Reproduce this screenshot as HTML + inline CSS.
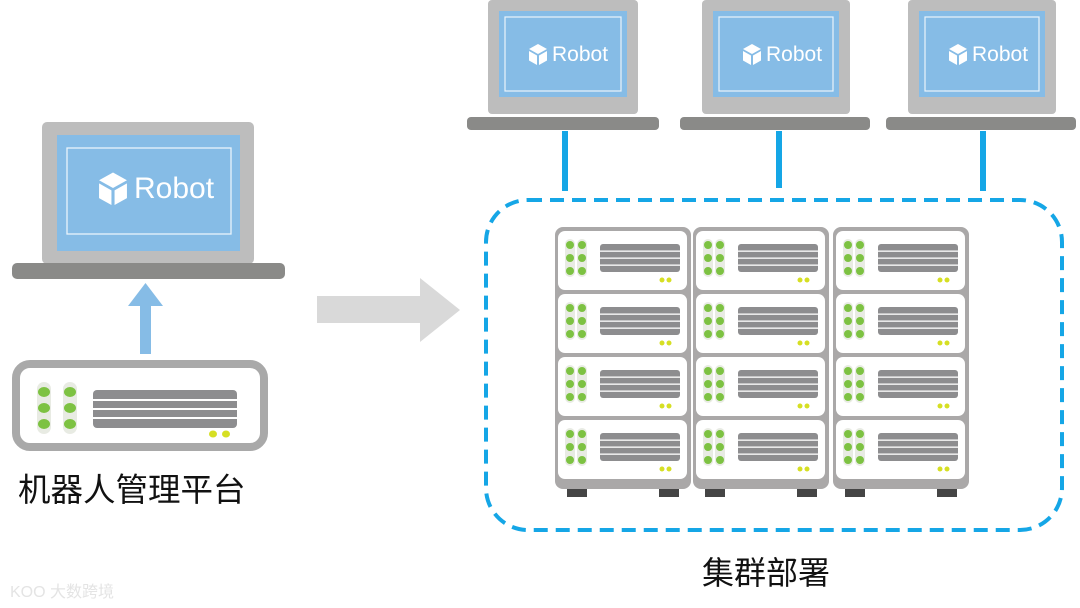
<!DOCTYPE html>
<html><head><meta charset="utf-8"><style>
html,body{margin:0;padding:0;background:#fff;width:1080px;height:608px;overflow:hidden}
svg text{font-family:"Liberation Sans","Noto Sans CJK SC",sans-serif}
</style></head><body>
<svg width="1080" height="608" viewBox="0 0 1080 608" xmlns="http://www.w3.org/2000/svg">
<defs>
<g id="unit">
<rect x="0" y="0" width="129" height="59" rx="7" fill="#fff"/>
<rect x="7" y="8" width="10" height="38" rx="5" fill="#e8ebe3"/>
<rect x="19" y="8" width="10" height="38" rx="5" fill="#e8ebe3"/>
<g fill="#7dc242">
<circle cx="12" cy="14" r="4"/><circle cx="12" cy="27" r="4"/><circle cx="12" cy="40" r="4"/>
<circle cx="24" cy="14" r="4"/><circle cx="24" cy="27" r="4"/><circle cx="24" cy="40" r="4"/>
</g>
<rect x="42" y="13" width="80" height="28" rx="3" fill="#8d8d8f"/>
<g fill="#fff"><rect x="42" y="19.5" width="80" height="1.3"/><rect x="42" y="26.5" width="80" height="1.3"/><rect x="42" y="33.5" width="80" height="1.3"/></g>
<circle cx="104" cy="49" r="2.5" fill="#d6df23"/><circle cx="111" cy="49" r="2.5" fill="#d6df23"/>
</g>
<g id="col">
<rect x="0" y="0" width="136" height="262" rx="8" fill="#aaa8a8"/>
<use href="#unit" x="3" y="4"/>
<use href="#unit" x="3" y="67"/>
<use href="#unit" x="3" y="130"/>
<use href="#unit" x="3" y="193"/>
<rect x="12" y="262" width="20" height="8" fill="#454545"/>
<rect x="104" y="262" width="20" height="8" fill="#454545"/>
</g>
<g id="cube">
<path d="M0,-10 L9,-5 L0,0 L-9,-5 Z" fill="#fff"/>
<path d="M-9,-3 L-1,1.5 L-1,11 L-9,6.5 Z" fill="#fff"/>
<path d="M9,-3 L1,1.5 L1,11 L9,6.5 Z" fill="#fff"/>
</g>
</defs>

<!-- top laptops -->
<g>
<rect x="488" y="0" width="150" height="114" rx="4" fill="#bdbdbd"/>
<rect x="499" y="11" width="128" height="86" fill="#86bce6"/>
<rect x="505" y="17" width="116" height="74" fill="none" stroke="#e9f3fb" stroke-width="1.2"/>
<use href="#cube" x="538" y="54"/>
<text x="552" y="61" font-size="21" fill="#fff">Robot</text>
<rect x="467" y="117" width="192" height="13" rx="4" fill="#8a8a88"/>
<rect x="562" y="131" width="6" height="60" fill="#15a6e6"/>
</g>
<g>
<rect x="702" y="0" width="148" height="114" rx="4" fill="#bdbdbd"/>
<rect x="713" y="11" width="126" height="86" fill="#86bce6"/>
<rect x="719" y="17" width="114" height="74" fill="none" stroke="#e9f3fb" stroke-width="1.2"/>
<use href="#cube" x="752" y="54"/>
<text x="766" y="61" font-size="21" fill="#fff">Robot</text>
<rect x="680" y="117" width="190" height="13" rx="4" fill="#8a8a88"/>
<rect x="776" y="131" width="6" height="57" fill="#15a6e6"/>
</g>
<g>
<rect x="908" y="0" width="148" height="114" rx="4" fill="#bdbdbd"/>
<rect x="919" y="11" width="126" height="86" fill="#86bce6"/>
<rect x="925" y="17" width="114" height="74" fill="none" stroke="#e9f3fb" stroke-width="1.2"/>
<use href="#cube" x="958" y="54"/>
<text x="972" y="61" font-size="21" fill="#fff">Robot</text>
<rect x="886" y="117" width="190" height="13" rx="4" fill="#8a8a88"/>
<rect x="980" y="131" width="6" height="60" fill="#15a6e6"/>
</g>

<!-- dashed cluster box -->
<rect x="486" y="200" width="576" height="330" rx="42" fill="none" stroke="#15a6e6" stroke-width="4" stroke-dasharray="14 8"/>

<!-- rack -->
<use href="#col" x="555" y="227"/>
<use href="#col" x="693" y="227"/>
<use href="#col" x="833" y="227"/>

<!-- left laptop -->
<rect x="42" y="122" width="212" height="142" rx="5" fill="#bdbdbd"/>
<rect x="57" y="135" width="183" height="116" fill="#86bce6"/>
<rect x="67" y="148" width="164" height="86" fill="none" stroke="#e9f3fb" stroke-width="1.3"/>
<use href="#cube" transform="translate(113,188) scale(1.55)"/>
<text x="134" y="198" font-size="30" fill="#fff">Robot</text>
<rect x="12" y="263" width="273" height="16" rx="5" fill="#8a8a88"/>

<!-- up arrow -->
<rect x="140" y="304" width="11" height="50" fill="#86bce6"/>
<polygon points="145.5,283 163,306 128,306" fill="#86bce6"/>

<!-- left server -->
<rect x="16" y="364" width="248" height="83" rx="14" fill="#fff" stroke="#a9a9a9" stroke-width="8"/>
<rect x="37" y="382" width="14" height="52" rx="7" fill="#e8ebe3"/>
<rect x="63" y="382" width="14" height="52" rx="7" fill="#e8ebe3"/>
<g fill="#7dc242">
<ellipse cx="44" cy="392" rx="6" ry="5"/><ellipse cx="44" cy="408" rx="6" ry="5"/><ellipse cx="44" cy="424" rx="6" ry="5"/>
<ellipse cx="70" cy="392" rx="6" ry="5"/><ellipse cx="70" cy="408" rx="6" ry="5"/><ellipse cx="70" cy="424" rx="6" ry="5"/>
</g>
<rect x="93" y="390" width="144" height="38" rx="4" fill="#8d8d8f"/>
<g fill="#fff"><rect x="93" y="399" width="144" height="2"/><rect x="93" y="408" width="144" height="2"/><rect x="93" y="417" width="144" height="2"/></g>
<ellipse cx="213" cy="434" rx="4" ry="3.5" fill="#d6df23"/><ellipse cx="226" cy="434" rx="4" ry="3.5" fill="#d6df23"/>

<text x="18" y="501" font-size="32.5" fill="#111">机器人管理平台</text>

<!-- big gray arrow -->
<rect x="317" y="296" width="104" height="27" fill="#d9d9d9"/>
<polygon points="420,278 460,310 420,342" fill="#d9d9d9"/>

<text x="766" y="584" font-size="32" fill="#111" text-anchor="middle">集群部署</text>

<text x="10" y="597" font-size="16" fill="#e4e4e4">KOO 大数跨境</text>
</svg>
</body></html>
